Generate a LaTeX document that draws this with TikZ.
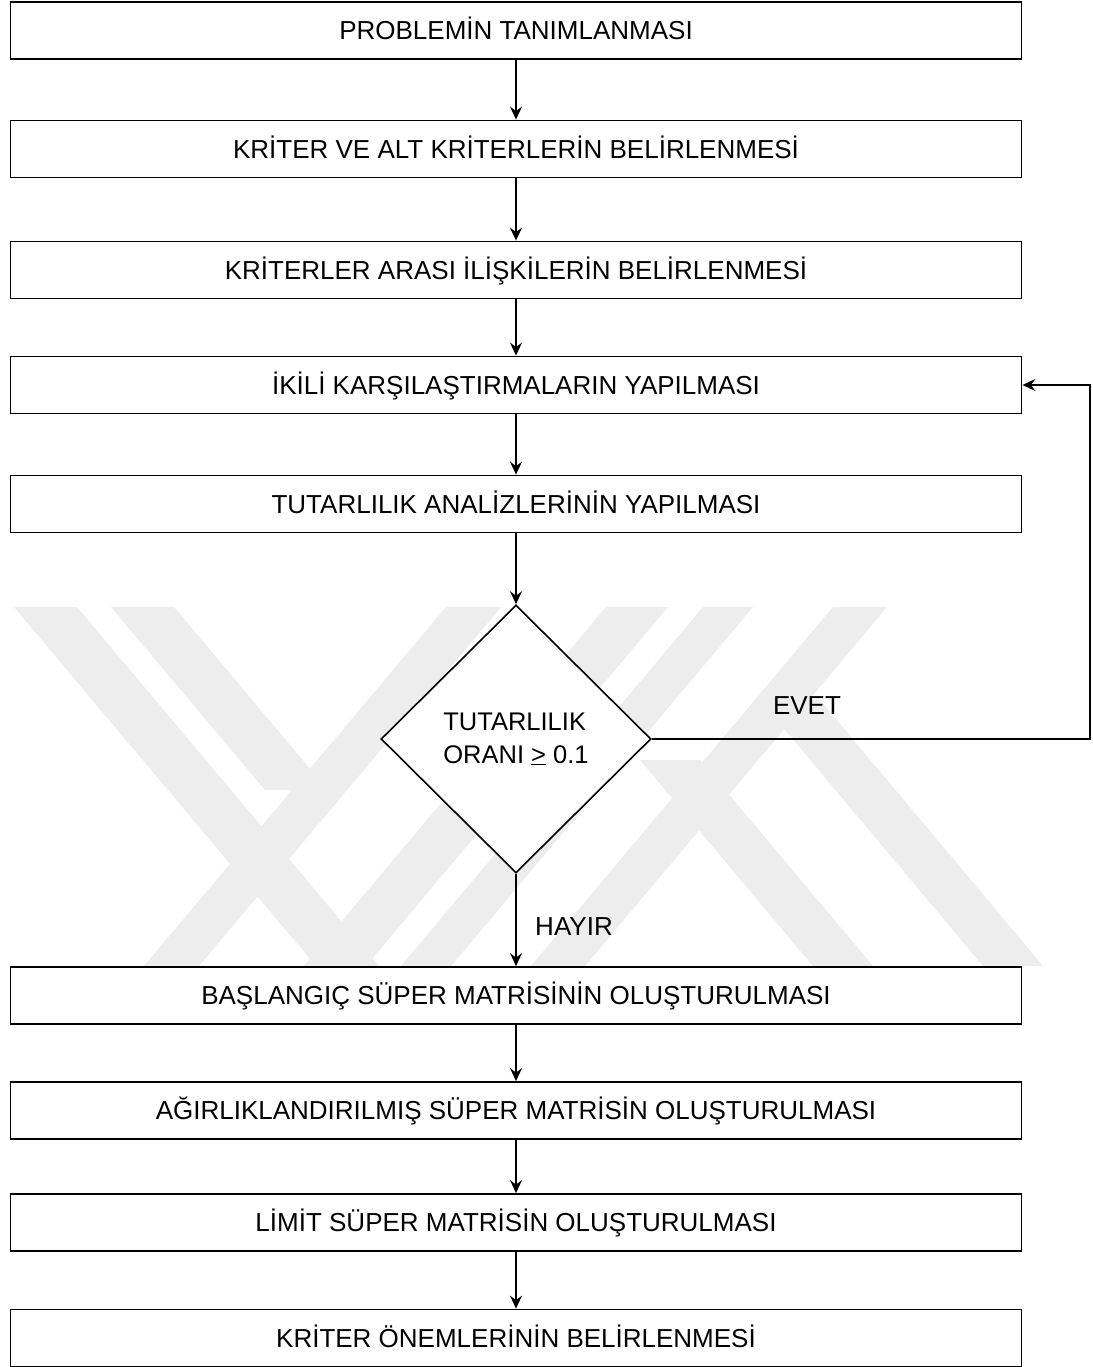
\documentclass[tikz,border=0pt]{standalone}
\usepackage{fontspec}
\setmainfont{Liberation Sans}
\usetikzlibrary{shapes.geometric,arrows.meta}
\begin{document}
\begin{tikzpicture}[x=1pt,y=-1pt,
  stepbox/.style={draw=black, line width=1.8pt, fill=white,
    minimum width=1011pt, minimum height=57pt, inner sep=0pt,
    text height=18.6pt, text depth=0pt,
    font=\fontsize{26}{31}\selectfont},
  decision/.style={diamond, draw=black, line width=1.6pt, fill=white,
    minimum width=270pt, minimum height=268pt, inner sep=0pt,
    align=left, font=\fontsize{25.5}{33}\selectfont},
  lbl/.style={font=\fontsize{26}{31}\selectfont, inner sep=0pt},
  flow/.style={draw=black, line width=1.6pt,
    -{Stealth[length=13pt,width=12pt,inset=4.5pt]}},
  wm/.style={fill=black!7}
]
\useasboundingbox (0,0) rectangle (1092,1367);
\fill[white] (0,0) rectangle (1092,1367);

% faint background emblem
\begin{scope}
\clip (0,607) rectangle (1092,966);
\fill[wm] (14,607) -- (77,607) -- (379,966) -- (316,966) -- cycle;
\fill[wm] (111,607) -- (174,607) -- (328,790) -- (265,790) -- cycle;
\fill[wm] (446,607) -- (501,607) -- (199,966) -- (144,966) -- cycle;
\fill[wm] (606,607) -- (668,607) -- (366,966) -- (304,966) -- cycle;
\fill[wm] (703,607) -- (753,607) -- (451,966) -- (401,966) -- cycle;
\fill[wm] (833,607) -- (887,607) -- (585,966) -- (531,966) -- cycle;
\fill[wm] (640,760) -- (700,760) -- (873,966) -- (813,966) -- cycle;
\fill[wm] (760,700) -- (820,700) -- (1043,966) -- (983,966) -- cycle;
\end{scope}

% process steps
\node[stepbox] (s1) at (516,30.5) {PROBLEMİN TANIMLANMASI};
\node[stepbox] (s2) at (516,149) {KRİTER VE ALT KRİTERLERİN BELİRLENMESİ};
\node[stepbox] (s3) at (516,270) {KRİTERLER ARASI İLİŞKİLERİN BELİRLENMESİ};
\node[stepbox] (s4) at (516,385) {İKİLİ KARŞILAŞTIRMALARIN YAPILMASI};
\node[stepbox] (s5) at (516,504) {TUTARLILIK ANALİZLERİNİN YAPILMASI};
\node[decision] (d) at (516,739) {TUTARLILIK\\ORANI \underline{>} 0.1};
\node[stepbox] (s6) at (516,995.5) {BAŞLANGIÇ SÜPER MATRİSİNİN OLUŞTURULMASI};
\node[stepbox] (s7) at (516,1110.5) {AĞIRLIKLANDIRILMIŞ SÜPER MATRİSİN OLUŞTURULMASI};
\node[stepbox] (s8) at (516,1222.5) {LİMİT SÜPER MATRİSİN OLUŞTURULMASI};
\node[stepbox] (s9) at (516,1338) {KRİTER ÖNEMLERİNİN BELİRLENMESİ};

% connectors
\draw[flow] (s1) -- (s2);
\draw[flow] (s2) -- (s3);
\draw[flow] (s3) -- (s4);
\draw[flow] (s4) -- (s5);
\draw[flow] (s5) -- (d);
\draw[flow] (d) -- (s6);
\draw[flow] (s6) -- (s7);
\draw[flow] (s7) -- (s8);
\draw[flow] (s8) -- (s9);

\coordinate (loopA) at (1090,739);
\coordinate (loopB) at (1090,385);
\draw[flow] (d.east) -- (loopA) -- (loopB) -- (s4.east);

% branch labels
\node[lbl] (evet) at (807,706) {EVET};
\node[lbl] (hayir) at (574,927) {HAYIR};
\end{tikzpicture}
\end{document}
